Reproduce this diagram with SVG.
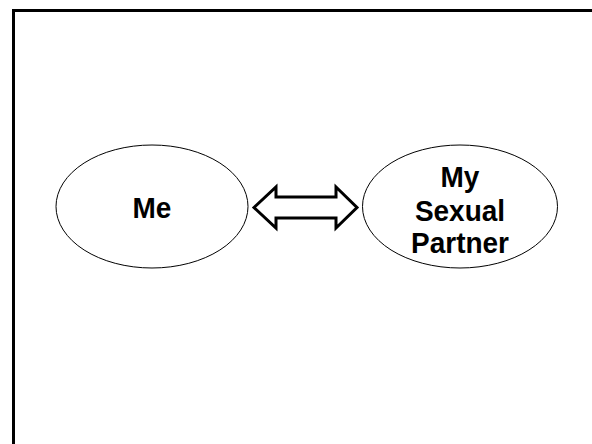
<svg xmlns="http://www.w3.org/2000/svg" width="592" height="444" viewBox="0 0 592 444">
<style>
.node ellipse{fill:#fff;stroke:#000;stroke-width:1}
.lbl{font-family:"Liberation Sans",Arial,sans-serif;font-weight:bold;font-size:28px;fill:#000;text-anchor:middle}
.conn{fill:#fff;stroke:#000;stroke-width:3;stroke-linejoin:miter}
</style>
<rect x="0" y="0" width="592" height="444" fill="#fff"/>
<rect x="13.5" y="10.5" width="600" height="460" fill="none" stroke="#000" stroke-width="3"/>
<g id="me" class="node">
<ellipse cx="152" cy="206.5" rx="96" ry="61.5"/>
<text class="lbl" transform="translate(152,218) scale(1,1.08)">Me</text>
</g>
<g id="partner" class="node">
<ellipse cx="460" cy="206.5" rx="97.5" ry="61.5"/>
<text class="lbl" transform="translate(460,186.5) scale(1,1.08)">My</text>
<text class="lbl" transform="translate(460,221) scale(1,1.08)">Sexual</text>
<text class="lbl" transform="translate(460,253) scale(1,1.08)">Partner</text>
</g>
<g id="connectors">
<path class="conn" d="M254,207.5 L276,187 L276,197 L336,197 L336,187 L357,207.5 L336,228 L336,218 L276,218 L276,228 Z"/>
</g>
</svg>
